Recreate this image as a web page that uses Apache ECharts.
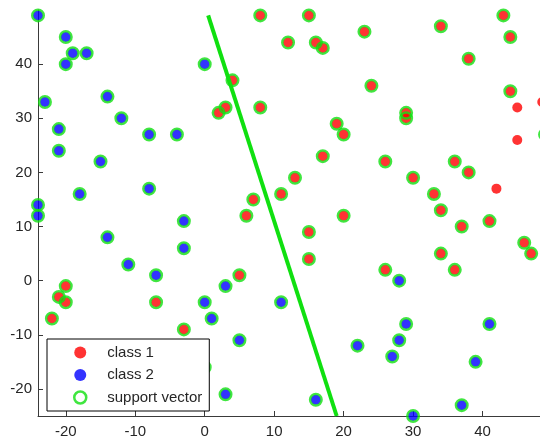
<!DOCTYPE html>
<html>
<head>
<meta charset="utf-8">
<script src="https://cdn.jsdelivr.net/npm/echarts@6/dist/echarts.min.js"></script>
<style>
html,body{margin:0;padding:0;background:#fff;}
#c{width:540px;height:439px;}
</style>
</head>
<body>
<div id="c"></div>
<script>
// class 1 points that are support vectors (red with green ring)
const class1SV = [
  [8,49],[4,37],[3,32],[2,31],[8,32],[7,15],[6,12],
  [15,49],[12,44],[16,44],[17,43],[23,46],[34,47],[43,49],[44,45],[38,41],[24,36],[44,35],
  [29,31],[29,30],
  [19,29],[20,27],[17,23],[26,22],[36,22],[38,20],[30,19],[13,19],[11,16],[33,16],[34,13],[20,12],[41,11],
  [49,27],
  [37,10],[15,9],[15,4],[46,7],[47,5],[34,5],[36,2],[26,2],
  [5,1],[-20,-1],[-21,-3],[-20,-4],[-22,-7],[-7,-4],[-3,-9]
];
// class 1 points that are not support vectors
const class1Other = [[45,32],[45,26],[42,17],[48.6,33]];
// class 2 points (all support vectors)
const class2SV = [
  [-24,49],[-20,45],[-19,42],[-17,42],[-20,40],[-23,33],[-14,34],[-12,30],[-21,28],[-21,24],
  [-15,22],[-8,27],[-4,27],[-18,16],[-8,17],[-24,14],[-24,12],[-3,11],[0,40],
  [-14,8],[-3,6],[-11,3],[-7,1],[3,-1],[0,-4],[1,-7],[5,-11],[3,-21],[0,-16],
  [28,0],[11,-4],[29,-8],[41,-8],[22,-12],[28,-11],[27,-14],[39,-15],[16,-22],[37,-23],[30,-25]
];
// separating line end points
const boundaryX = [0.5, 19];
const boundaryY = [49, -25];
// tick labels
const xTicks = [-20,-10,0,10,20,30,40];
const yTicks = [-20,-10,0,10,20,30,40];
const legendNames = ['class 1','class 2','support vector'];

const RED = '#ff0000', BLUE = '#0000ff', GREEN = '#10e010';
const FONT = 'Liberation Sans, Arial, sans-serif';
const TXT = '#262626', AX = '#3a3a3a';

const chart = echarts.init(document.getElementById('c'), null, {renderer:'canvas'});
const axisCommon = {
  type:'value',
  splitLine:{show:false},
  axisLine:{show:true, onZero:false, lineStyle:{color:AX, width:1}},
  axisTick:{show:true, inside:true, length:5, lineStyle:{color:AX}},
  axisLabel:{color:TXT, fontSize:15, fontFamily:FONT}
};
chart.setOption({
  animation:false,
  backgroundColor:'#fff',
  grid:{left:38, right:-12, top:10, bottom:23, outerBoundsMode:'none', containLabel:false},
  xAxis:Object.assign({}, axisCommon, {
    min:-24, max:50,
    axisTick:Object.assign({}, axisCommon.axisTick, {customValues:xTicks}),
    axisLabel:Object.assign({}, axisCommon.axisLabel, {customValues:xTicks, margin:8})
  }),
  yAxis:Object.assign({}, axisCommon, {
    min:-25, max:50,
    axisTick:Object.assign({}, axisCommon.axisTick, {customValues:yTicks}),
    axisLabel:Object.assign({}, axisCommon.axisLabel, {customValues:yTicks, margin:6})
  }),
  legend:{
    orient:'vertical', left:47, top:339, z:10,
    padding:[6,7,6,26], itemGap:7.5, itemWidth:44, itemHeight:12,
    backgroundColor:'#fff', borderColor:'#000', borderWidth:1, borderRadius:0,
    icon:'circle', selectedMode:false,
    textStyle:{color:TXT, fontSize:15, fontFamily:FONT, lineHeight:15},
    data:[
      {name:legendNames[0], itemStyle:{color:RED, borderWidth:0}},
      {name:legendNames[1], itemStyle:{color:BLUE, borderWidth:0}},
      {name:legendNames[2], itemStyle:{color:'rgba(0,0,0,0)', borderColor:GREEN, borderWidth:2.5}}
    ]
  },
  series:[
    {name:legendNames[0], type:'scatter', symbol:'circle', symbolSize:10, clip:false,
     itemStyle:{color:RED}, data:class1SV.concat(class1Other), silent:true},
    {name:legendNames[1], type:'scatter', symbol:'circle', symbolSize:10, clip:false,
     itemStyle:{color:BLUE}, data:class2SV, silent:true},
    {name:legendNames[2], type:'scatter', symbol:'circle', symbolSize:11.5, clip:false,
     itemStyle:{color:'rgba(0,0,0,0)', borderColor:GREEN, borderWidth:2.5},
     data:class1SV.concat(class2SV), silent:true},
    {name:'boundary', type:'line', showSymbol:false, symbol:'none', clip:false,
     lineStyle:{color:GREEN, width:4}, z:5,
     data:boundaryX.map((x,i)=>[x, boundaryY[i]]), silent:true}
  ]
});
</script>
</body>
</html>
